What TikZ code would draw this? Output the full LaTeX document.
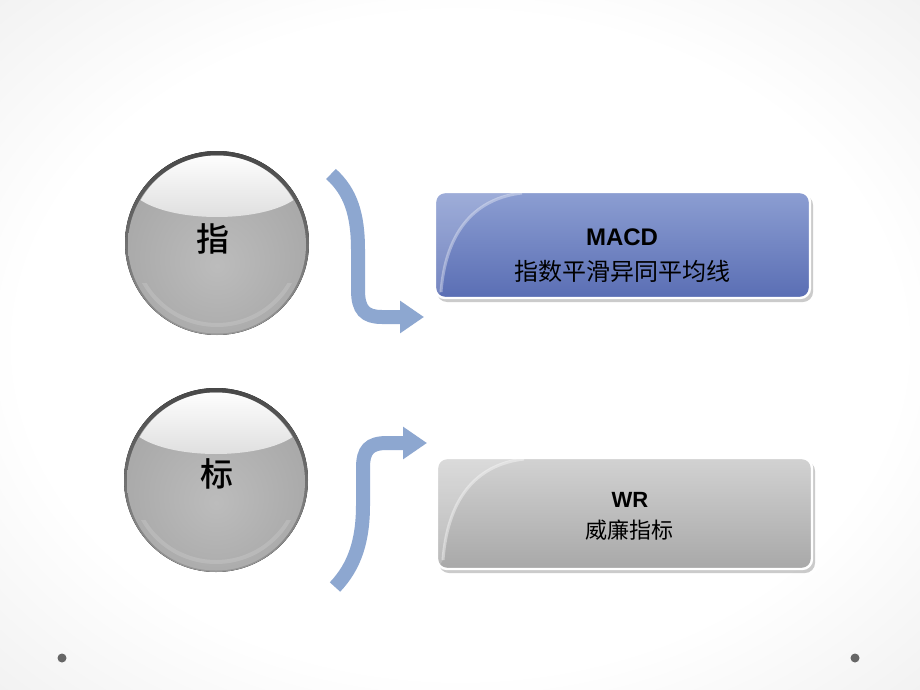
\documentclass[tikz,border=0pt]{standalone}
\usepackage{fontspec}
\setmainfont{Liberation Sans}
\newfontfamily\cjk{Noto Sans CJK SC}
\newfontfamily\cjkbold{Noto Sans CJK SC Medium}
\usetikzlibrary{arrows.meta}
\definecolor{bggray}{RGB}{221,221,221}
\definecolor{arrowblue}{RGB}{141,167,208}
\definecolor{boxtop}{RGB}{140,158,210}
\definecolor{boxbot}{RGB}{90,110,180}
\definecolor{graytop}{RGB}{210,210,210}
\definecolor{graybot}{RGB}{168,168,168}
\definecolor{sphlight}{RGB}{188,188,188}
\definecolor{sphmid}{RGB}{168,168,168}
\definecolor{sphdark}{RGB}{122,122,122}
\definecolor{hlbot}{RGB}{220,220,220}
\pgfdeclareradialshading{bgshade}{\pgfpoint{0bp}{0bp}}{color(0bp)=(white); color(24bp)=(white); color(54bp)=(bggray); color(70bp)=(bggray)}
\pgfdeclareradialshading{sphbody}{\pgfpoint{0bp}{-6bp}}{color(0bp)=(sphlight); color(28bp)=(sphmid); color(45bp)=(sphdark); color(50bp)=(sphdark)}
\newcommand\glassball[2]{%
  \fill[top color=black!72, bottom color=black!40] (#1,#2) circle[radius=92];
  \shade[shading=sphbody] (#1,#2+1.5) circle[radius=89];
  \begin{scope}
    \clip (#1-95,#2+40) rectangle (#1+95,#2+95);
    \draw[white, opacity=0.14, line width=4] (#1,#2-2) circle[radius=84];
  \end{scope}
  \begin{scope}
    \clip (#1,#2) circle[radius=87.5];
    \shade[top color=white, bottom color=hlbot]
      (#1-78,#2-44) .. controls (#1-45,#2-20) and (#1+45,#2-20) .. (#1+78,#2-44)
      -- (#1+78,#2-90) -- (#1-78,#2-90) -- cycle;
  \end{scope}}
\tikzset{
  arr/.style={draw=arrowblue, line width=14, -{Triangle[length=24pt,width=31pt]}},
  cjktext/.style={font=\cjk\fontsize{#1}{#1}\selectfont, text=black, inner sep=0},
  balltext/.style={font=\cjkbold\fontsize{#1}{#1}\selectfont, text=black, inner sep=0},
  lattext/.style={font=\bfseries\fontsize{#1}{#1}\selectfont, text=black, inner sep=0},
  boxshadow/.style={fill=black!45, opacity=0.45, rounded corners=10},
  boxedge/.style={draw=white, line width=2.4, rounded corners=10},
}
\begin{document}
\begin{tikzpicture}[x=1pt, y=-1pt]
\useasboundingbox (0,0) rectangle (920,690);
\shade[shading=bgshade] (0,0) rectangle (920,690);

% spheres
\glassball{217}{243}
\glassball{216}{480}
\node[balltext=33] (s1) at (213,239) {指};
\node[balltext=33] (s2) at (217,474) {标};

% box 1
\fill[boxshadow] (437,195) rectangle (813,302);
\shade[top color=boxtop, bottom color=boxbot, rounded corners=10] (435,192) rectangle (810,298);
\begin{scope}
  \clip[rounded corners=10] (435,192) rectangle (810,298);
  \fill[white, opacity=0.16] (435,192) -- (522,192) .. controls (478,198) and (446,228) .. (441,292) -- (435,298) -- cycle;
  \draw[white, opacity=0.35, line width=3] (522,193) .. controls (478,198) and (446,228) .. (441,292);
\end{scope}
\draw[boxedge] (435,192) rectangle (810,298);
\node[lattext=24] (b1t) at (622,237) {MACD};
\node[cjktext=24] (b1c) at (622,271) {指数平滑异同平均线};

% box 2
\fill[boxshadow] (439,461) rectangle (815,573);
\shade[top color=graytop, bottom color=graybot, rounded corners=10] (437,458) rectangle (812,569);
\begin{scope}
  \clip[rounded corners=10] (437,458) rectangle (812,569);
  \fill[white, opacity=0.2] (437,458) -- (524,458) .. controls (480,464) and (448,494) .. (443,560) -- (437,569) -- cycle;
  \draw[white, opacity=0.4, line width=3] (524,459) .. controls (480,464) and (448,494) .. (443,560);
\end{scope}
\draw[boxedge] (437,458) rectangle (812,569);
\node[lattext=22] (b2t) at (630,500) {WR};
\node[cjktext=22] (b2c) at (629,530) {威廉指标};

% arrows
\coordinate (a1s) at (331,174);
\coordinate (a1e) at (424,317);
\coordinate (a2s) at (335,587);
\coordinate (a2e) at (427,443);
\draw[arr] (a1s) .. controls (351,192) and (358,215) .. (358,250) -- (358,290)
  .. controls (358,310) and (365,317) .. (382,317) -- (a1e);
\draw[arr] (a2s) .. controls (355,566) and (363,540) .. (363,505) -- (363,468)
  .. controls (363,450) and (369,443) .. (387,443) -- (a2e);

% dots
\fill[black!60] (62,658) circle[radius=4.5];
\fill[black!60] (855,658) circle[radius=4.5];
\end{tikzpicture}
\end{document}
